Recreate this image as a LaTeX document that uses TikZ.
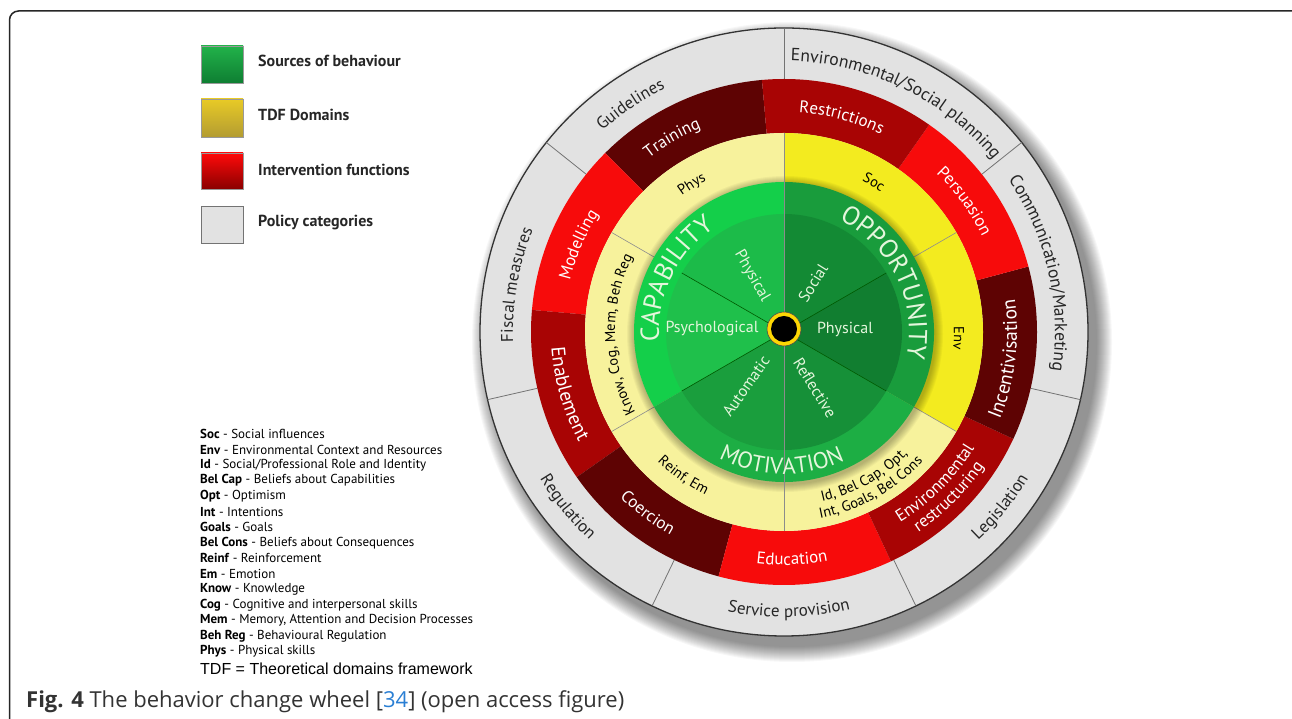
\documentclass[tikz,border=0pt]{standalone}
\usepackage{fontspec}
\setmainfont{PT Sans}
\newfontfamily\libsans{Liberation Sans}
\newfontfamily\opensans{Open Sans}
\usetikzlibrary{calc,decorations.text}
\definecolor{grayring}{HTML}{E2E2E2}
\definecolor{reddark}{HTML}{5E0303}
\definecolor{redmed}{HTML}{A80404}
\definecolor{redbright}{HTML}{F70B0B}
\definecolor{ylpale}{HTML}{F7F29C}
\definecolor{ylbright}{HTML}{F3EB1F}
\definecolor{capO}{HTML}{14CF4A}
\definecolor{capA}{HTML}{1CBB49}
\definecolor{capB}{HTML}{1FC04B}
\definecolor{oppO}{HTML}{199C3C}
\definecolor{oppA}{HTML}{138A34}
\definecolor{oppB}{HTML}{117E30}
\definecolor{motO}{HTML}{1DAE44}
\definecolor{motA}{HTML}{1A9E3D}
\definecolor{motB}{HTML}{169038}
\definecolor{greentext}{HTML}{E4F6DC}
\definecolor{capblue}{HTML}{2A7FD4}
\definecolor{legG1}{HTML}{22B24A}
\definecolor{legG2}{HTML}{0E7E32}
\definecolor{legY1}{HTML}{E8CA26}
\definecolor{legY2}{HTML}{B39C32}
\definecolor{legR1}{HTML}{FF0A0A}
\definecolor{legR2}{HTML}{8A0000}
\newcommand\ringseg[5]{\fill[#1] ($(C)+(#2:#5)$) arc[start angle=#2,end angle=#3,radius=#5] -- ($(C)+(#3:#4)$) arc[start angle=#3,end angle=#2,radius=#4] -- cycle;}
\newcommand\cwtext[5]{\path[decorate,decoration={text along path,text align=center,text={|#4|#5}}] ($(C)+({#1+#3}:#2)$) arc[start angle={#1+#3},end angle={#1-#3},radius=#2];}
\newcommand\ccwtext[5]{\path[decorate,decoration={text along path,text align=center,text={|#4|#5}}] ($(C)+({#1-#3}:#2)$) arc[start angle={#1-#3},end angle={#1+#3},radius=#2];}
\newcommand\fgray{\fontsize{17}{17}\selectfont\color{black!85}}
\newcommand\fgraybig{\fontsize{17.6}{17.6}\selectfont\color{black!85}}
\newcommand\fred{\fontsize{17}{17}\selectfont\color{white}}
\newcommand\fredbig{\fontsize{19.5}{19.5}\selectfont\color{white}}
\newcommand\fyel{\fontsize{14.5}{14.5}\selectfont\color{black}}
\newcommand\fbig{\fontsize{26}{26}\selectfont\color{greentext}}
\newcommand\fmot{\fontsize{23}{23}\selectfont\color{greentext}}
\tikzset{
  inlabel/.style={font=\fontsize{16}{16}\selectfont, text=greentext, inner sep=0pt},
  legbox/.style={draw=black!40, line width=0.6pt},
  legtext/.style={anchor=west, font=\bfseries\fontsize{16}{16}\selectfont, text=black!85, inner sep=0pt},
  abbr/.style={anchor=west, font=\fontsize{13}{13}\selectfont, text=black, inner sep=0pt},
}
\begin{document}
\begin{tikzpicture}[x=1pt,y=1pt]
\useasboundingbox (0,0) rectangle (1292,719);
\clip (0,0) rectangle (1292,719);
\fill[white] (0,0) rectangle (1292,719);
% frame
\draw[line width=1.5pt, black!85, rounded corners=9pt] (9.5,-10) -- (9.5,708) -- (1302,708) -- (1302,-10);
\coordinate (C) at (784,387);
% shadow
\foreach \k in {0,...,15} \fill[black,opacity=0.032] ($(C)+(8,-10)$) circle ({320-\k});
% policy ring
\fill[grayring] (C) circle (304);
\draw[black!80, line width=1.3pt] (C) circle (304);
\foreach \a in {90,38.57,-12.86,-64.29,-115.71,-167.14,141.43}
  \draw[black!55, line width=0.8pt] ($(C)+(\a:253)$) -- ($(C)+(\a:304)$);
% intervention ring
\ringseg{reddark}{95}{135}{199}{253}
\ringseg{redbright}{135}{175}{199}{253}
\ringseg{redmed}{175}{215}{199}{253}
\ringseg{reddark}{215}{255}{199}{253}
\ringseg{redbright}{255}{295}{199}{253}
\ringseg{redmed}{295}{335}{199}{253}
\ringseg{reddark}{335}{375}{199}{253}
\ringseg{redbright}{15}{55}{199}{253}
\ringseg{redmed}{55}{95}{199}{253}
% TDF ring
\ringseg{ylpale}{90}{150}{0}{199}
\ringseg{ylpale}{150}{210}{0}{199}
\ringseg{ylpale}{210}{270}{0}{199}
\ringseg{ylpale}{270}{330}{0}{199}
\ringseg{ylbright}{330}{390}{0}{199}
\ringseg{ylbright}{30}{90}{0}{199}
\foreach \a in {30,150,210,330}
  \draw[black!45, line width=0.6pt] ($(C)+(\a:150)$) -- ($(C)+(\a:199)$);
\foreach \k in {0,...,7} \fill[black,opacity=0.035] ($(C)+(1,-2)$) circle ({158-\k});
% sources
\ringseg{capO}{90}{210}{0}{150}
\ringseg{oppO}{-30}{90}{0}{150}
\ringseg{motO}{210}{330}{0}{150}
\ringseg{capA}{90}{150}{0}{118}
\ringseg{capB}{150}{210}{0}{118}
\ringseg{oppA}{30}{90}{0}{118}
\ringseg{oppB}{-30}{30}{0}{118}
\ringseg{motA}{210}{270}{0}{118}
\ringseg{motB}{270}{330}{0}{118}
\foreach \a in {30,150,210,330}
  \draw[black!30!green!50!black, line width=0.6pt] (C) -- ($(C)+(\a:118)$);
\draw[black!45, line width=0.6pt] ($(C)+(90:199)$) -- ($(C)+(270:199)$);
% hub
\fill[yellow!75!orange] ($(C)+(0,3)$) circle (17);
\draw[black!70, line width=0.6pt] ($(C)+(0,3)$) circle (17);
\fill[black] ($(C)+(0,3)$) circle (13);
% policy labels
\cwtext{64}{271}{40}{\fgraybig}{Environmental/Social planning}
\cwtext{13}{271}{40}{\fgraybig}{Communication/Marketing}
\ccwtext{-39}{285}{40}{\fgray}{Legislation}
\ccwtext{271}{285}{40}{\fgray}{Service provision}
\ccwtext{219}{285}{40}{\fgray}{Regulation}
\cwtext{170}{271}{40}{\fgray}{Fiscal measures}
\cwtext{124}{271}{40}{\fgray}{Guidelines}
% intervention labels
\cwtext{120}{220}{40}{\fred}{Training}
\cwtext{75}{220}{40}{\fred}{Restrictions}
\cwtext{36}{220}{40}{\fred}{Persuasion}
\ccwtext{-7}{233}{40}{\fredbig}{Incentivisation}
\ccwtext{-45}{223}{40}{\fred}{Environmental}
\ccwtext{-45}{241}{40}{\fred}{restructuring}
\ccwtext{272}{233}{40}{\fred}{Education}
\ccwtext{233}{233}{40}{\fred}{Coercion}
\ccwtext{196}{233}{40}{\fredbig}{Enablement}
\cwtext{157}{220}{40}{\fred}{Modelling}
% TDF labels
\cwtext{122}{170}{45}{\fyel}{Phys}
\cwtext{59}{170}{45}{\fyel}{Soc}
\cwtext{-2}{170}{45}{\fyel}{Env}
\cwtext{181}{169}{45}{\fyel}{Know, Cog, Mem, Beh Reg}
\ccwtext{235}{181}{45}{\fyel}{Reinf,  Em}
\ccwtext{299}{174}{45}{\fyel}{Id, Bel Cap, Opt,}
\ccwtext{299}{190}{45}{\fyel}{Int, Goals, Bel Cons}
% big source labels
\cwtext{154}{125}{55}{\fbig}{CAPABILITY}
\cwtext{26}{125}{55}{\fbig}{OPPORTUNITY}
\ccwtext{269}{142}{55}{\fmot}{MOTIVATION}
% inner labels
\node[inlabel, rotate=-60] (cphys) at ($(C)+(-32,56)$) {Physical};
\node[inlabel] (cpsy) at ($(C)+(-72,3)$) {Psychological};
\node[inlabel, rotate=58] (osoc) at ($(C)+(29,49)$) {Social};
\node[inlabel] (ophys) at ($(C)+(61,3)$) {Physical};
\node[inlabel, rotate=55] (mauto) at ($(C)+(-38,-54)$) {Automatic};
\node[inlabel, rotate=-58] (mrefl) at ($(C)+(31,-56)$) {Reflective};
% legend
\shade[legbox, top color=legG1, bottom color=legG2] (201,636) rectangle (243,673);
\shade[legbox, top color=legY1, bottom color=legY2] (201,582) rectangle (243,620);
\shade[legbox, top color=legR1, bottom color=legR2] (201,530) rectangle (243,566);
\fill[grayring] (201,476) rectangle (243,513);
\draw[black!55, line width=0.8pt] (201,476) rectangle (243,513);
\node[legtext] (l1) at (258,658) {Sources of behaviour};
\node[legtext] (l2) at (258,604) {TDF Domains};
\node[legtext] (l3) at (258,549) {Intervention functions};
\node[legtext] (l4) at (258,496) {Policy categories};
% abbreviations
\node[abbr] (ab1) at (200,285) {\textbf{Soc} - Social influences};
\node[abbr] (ab2) at (200,269.45) {\textbf{Env} - Environmental Context and Resources};
\node[abbr] (ab3) at (200,253.9) {\textbf{Id} - Social/Professional Role and Identity};
\node[abbr] (ab4) at (200,238.35) {\textbf{Bel Cap} - Beliefs about Capabilities};
\node[abbr] (ab5) at (200,222.8) {\textbf{Opt} - Optimism};
\node[abbr] (ab6) at (200,207.25) {\textbf{Int} - Intentions};
\node[abbr] (ab7) at (200,191.7) {\textbf{Goals} - Goals};
\node[abbr] (ab8) at (200,176.15) {\textbf{Bel Cons} - Beliefs about Consequences};
\node[abbr] (ab9) at (200,160.6) {\textbf{Reinf} - Reinforcement};
\node[abbr] (ab10) at (200,145.05) {\textbf{Em} - Emotion};
\node[abbr] (ab11) at (200,129.5) {\textbf{Know} - Knowledge};
\node[abbr] (ab12) at (200,113.95) {\textbf{Cog} - Cognitive and interpersonal skills};
\node[abbr] (ab13) at (200,98.4) {\textbf{Mem} - Memory, Attention and Decision Processes};
\node[abbr] (ab14) at (200,82.85) {\textbf{Beh Reg} - Behavioural Regulation};
\node[abbr] (ab15) at (200,67.3) {\textbf{Phys} - Physical skills};
\node[anchor=west, inner sep=0pt, font=\libsans\fontsize{16}{16}\selectfont] (tdf) at (200,50) {TDF = Theoretical domains framework};
% caption
\node[anchor=west, inner sep=0pt, font=\opensans\fontsize{22}{22}\selectfont, text=black!80] (cap) at (26,17) {\textbf{Fig. 4} The behavior change wheel [\textcolor{capblue}{34}] (open access figure)};
\end{tikzpicture}
\end{document}
